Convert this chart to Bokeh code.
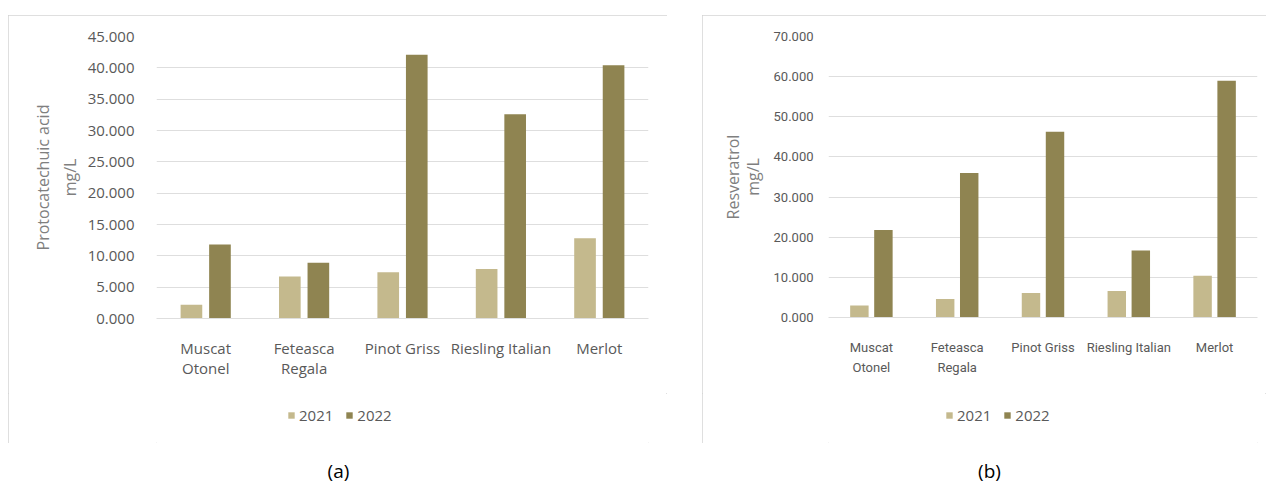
from bokeh.plotting import figure
from bokeh.models import (ColumnDataSource, FactorRange, Range1d, Legend, LegendItem,
                          SingleIntervalTicker, NumeralTickFormatter)
from bokeh.layouts import row, column
from bokeh.transform import dodge
from bokeh.core.properties import value
from bokeh.embed import file_html
from bokeh.resources import INLINE

# Grape varieties (x categories)
varieties = ["Muscat\nOtonel", "Feteasca\nRegala", "Pinot Griss", "Riesling Italian", "Merlot"]
years = ["2021", "2022"]

# (a) Protocatechuic acid, mg/L
proto_2021 = [2.2, 6.7, 7.4, 7.9, 12.8]
proto_2022 = [11.8, 8.9, 42.1, 32.6, 40.4]

# (b) Resveratrol, mg/L
resv_2021 = [3.0, 4.6, 6.1, 6.6, 10.4]
resv_2022 = [21.8, 36.0, 46.3, 16.7, 59.0]

C2021 = "#c4b98d"
C2022 = "#8f8451"
GRID = "#dedede"
BOX = "#d4d4d4"
TEXT = "#595959"
TITLE = "#7f7f7f"

MAIN_H = 378
LEG_H = 50


def chart(src, ymax, step, ylabel, width, borders, tick_font, tick_size, tick_lh,
          offs, bar_w, label_standoff, x_standoff, title_standoff, title_lh):
    left, right, top, bottom = borders
    p = figure(x_range=FactorRange(*varieties, range_padding=0),
               y_range=Range1d(0, ymax),
               width=width, height=MAIN_H, output_backend="svg", toolbar_location=None,
               min_border_left=left, min_border_right=right,
               min_border_top=top, min_border_bottom=bottom)
    p.outline_line_color = None
    p.border_fill_color = "white"

    p.vbar(x=dodge("variety", -offs, range=p.x_range), top="y2021", width=bar_w,
           source=src, fill_color=C2021, line_color=None)
    p.vbar(x=dodge("variety", offs, range=p.x_range), top="y2022", width=bar_w,
           source=src, fill_color=C2022, line_color=None)

    p.xgrid.grid_line_color = None
    p.ygrid.grid_line_color = GRID

    ya = p.yaxis[0]
    ya.ticker = SingleIntervalTicker(interval=step)
    ya.formatter = NumeralTickFormatter(format="0.000")
    ya.axis_line_color = None
    ya.major_tick_line_color = None
    ya.minor_tick_line_color = None
    ya.major_tick_out = 0
    ya.major_label_standoff = label_standoff
    ya.major_label_text_font = tick_font
    ya.major_label_text_font_size = tick_size
    ya.major_label_text_color = TEXT
    ya.axis_label = ylabel
    ya.axis_label_text_font = "Open Sans"
    ya.axis_label_text_font_size = "16px"
    ya.axis_label_text_font_style = "normal"
    ya.axis_label_text_color = TITLE
    ya.axis_label_text_line_height = title_lh
    ya.axis_label_standoff = title_standoff

    xa = p.xaxis[0]
    xa.axis_line_color = GRID
    xa.major_tick_line_color = None
    xa.minor_tick_line_color = None
    xa.major_tick_out = 0
    xa.major_label_standoff = x_standoff
    xa.major_label_text_font = tick_font
    xa.major_label_text_font_size = tick_size
    xa.major_label_text_line_height = tick_lh
    xa.major_label_text_color = TEXT
    xa.major_label_orientation = "horizontal"
    return p


def legend_strip(src, width, borders, legend_xy):
    left, right = borders
    lf = figure(width=width, height=LEG_H, x_range=FactorRange(*varieties),
                y_range=Range1d(0, 1), output_backend="svg", toolbar_location=None,
                x_axis_location=None, y_axis_location=None,
                min_border_left=left, min_border_right=right,
                min_border_top=0, min_border_bottom=0)
    lf.outline_line_color = None
    lf.grid.visible = False
    # hidden series renderers that only supply the legend swatches
    s1 = lf.vbar(x="variety", top="y2021", width=0.2, source=src,
                 fill_color=C2021, line_color=None, visible=False)
    s2 = lf.vbar(x="variety", top="y2022", width=0.2, source=src,
                 fill_color=C2022, line_color=None, visible=False)
    legend = Legend(items=[LegendItem(label=years[0], renderers=[s1]),
                           LegendItem(label=years[1], renderers=[s2])],
                    orientation="horizontal", location=legend_xy,
                    glyph_width=8, glyph_height=8, label_standoff=4, spacing=12,
                    padding=0, margin=0, border_line_color=None,
                    background_fill_alpha=0, inactive_fill_alpha=0,
                    label_text_font="Open Sans",
                    label_text_font_size="15px", label_text_color=TEXT,
                    label_height=18)
    lf.add_layout(legend, "center")
    return lf


def caption(text, width, borders, cx):
    left, right = borders
    c = figure(width=width, height=40, x_range=Range1d(left, width - right),
               y_range=Range1d(0, 40), output_backend="svg", toolbar_location=None,
               x_axis_location=None, y_axis_location=None,
               min_border_left=left, min_border_right=right,
               min_border_top=0, min_border_bottom=0)
    c.outline_line_color = None
    c.grid.visible = False
    c.text(x=[cx], y=[13], text=[text], text_align="center", text_baseline="middle",
           text_font=value("Open Sans"), text_font_size="19px", text_color="black")
    return c


box_style = {"outline": f"1px solid {BOX}", "outline-offset": "-1px"}

src_a = ColumnDataSource(dict(variety=varieties, y2021=proto_2021, y2022=proto_2022))
src_b = ColumnDataSource(dict(variety=varieties, y2021=resv_2021, y2022=resv_2022))

pa = chart(src_a, 45, 5, "Protocatechuic acid\nmg/L", 659, (148, 19, 21, 75),
           "Open Sans", "15px", 1.0, 0.145, 0.22, 18, 19, 4, 1.2)
la = legend_strip(src_a, 659, (148, 19), (131, 18))
ca = caption("(a)", 659, (148, 19), 330)

pb = chart(src_b, 70, 10, "Resveratrol\nmg/L", 564, (126, 9, 21, 76),
           "Roboto", "13px", 1.38, 0.14, 0.215, 11, 22, 7, 0.9)
lb = legend_strip(src_b, 564, (126, 9), (117, 18))
cb = caption("(b)", 564, (126, 9), 287)

box_a = column(pa, la, spacing=0, styles=box_style)
box_b = column(pb, lb, spacing=0, styles=box_style)
col_a = column(box_a, ca, margin=(15, 0, 0, 8), spacing=0)
col_b = column(box_b, cb, margin=(15, 0, 0, 35), spacing=0)
layout = row(col_a, col_b, spacing=0)

open("out.html", "w").write(file_html(layout, INLINE))
